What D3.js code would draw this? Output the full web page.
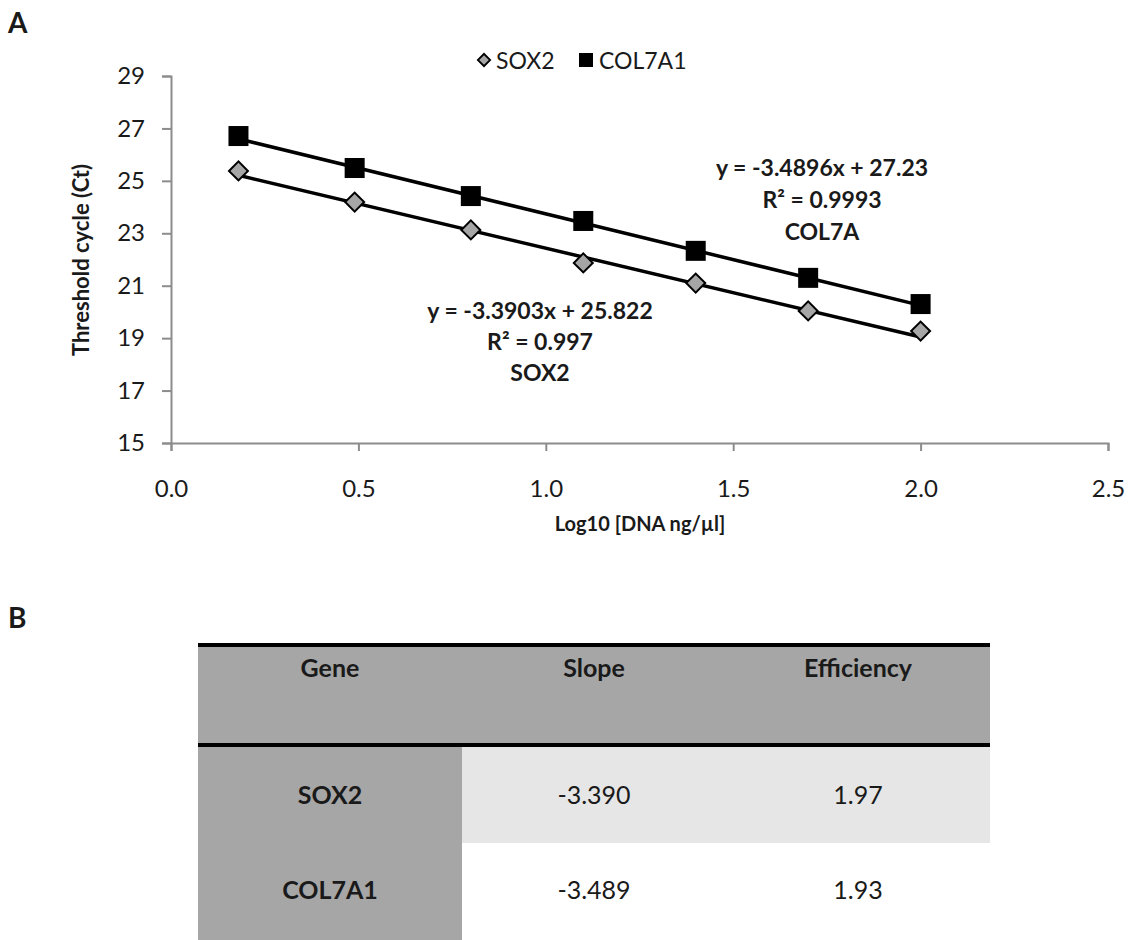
<!DOCTYPE html>
<html><head><meta charset="utf-8">
<script src="https://cdn.jsdelivr.net/npm/d3@7"></script>
<style>body{margin:0;background:#fff}svg{display:block}text{font-family:Lato,"Open Sans",sans-serif}</style>
</head><body>
<svg id="c" width="1137" height="940"></svg>
<script>
const logConc = [0.18, 0.49, 0.80, 1.10, 1.40, 1.70, 2.00];
const sox2Ct = [25.38, 24.19, 23.13, 21.87, 21.10, 20.04, 19.27];
const col7a1Ct = [26.71, 25.49, 24.42, 23.47, 22.33, 21.30, 20.30];
const sox2Fit = {slope: -3.3903, intercept: 25.822};
const col7a1Fit = {slope: -3.4896, intercept: 27.23};
const yTicks = [15, 17, 19, 21, 23, 25, 27, 29];
const xTicks = [0.0, 0.5, 1.0, 1.5, 2.0, 2.5];
const sox2Labels = ["y = -3.3903x + 25.822", "R\u00B2 = 0.997", "SOX2"];
const col7aLabels = ["y = -3.4896x + 27.23", "R\u00B2 = 0.9993", "COL7A"];
const tableHeader = ["Gene", "Slope", "Efficiency"];
const tableGenes = ["SOX2", "COL7A1"];
const tableSlopes = ["-3.390", "-3.489"];
const tableEff = ["1.97", "1.93"];

const svg = d3.select("#c");
const x = d3.scaleLinear().domain([0, 2.5]).range([171, 1108]);
const y = d3.scaleLinear().domain([15, 29]).range([443, 76]);
const ink = "#1a1a1a";

// panel labels
svg.append("text").attr("x", 8).attr("y", 33).attr("font-size", 28).attr("font-weight", "bold").attr("fill", ink).text("A");
svg.append("text").attr("x", 8).attr("y", 628).attr("font-size", 28).attr("font-weight", "bold").attr("fill", ink).text("B");

// axes
const yAxis = svg.append("g").attr("transform", "translate(171,0)")
  .call(d3.axisLeft(y).tickValues(yTicks).tickSize(9).tickPadding(17).tickFormat(d3.format("d")));
const xAxis = svg.append("g").attr("transform", "translate(0,443)")
  .call(d3.axisBottom(x).tickValues(xTicks).tickSize(8).tickPadding(29).tickFormat(d3.format(".1f")));
[yAxis, xAxis].forEach(g => {
  g.selectAll("path,line").attr("stroke", "#8c8c8c").attr("stroke-width", 2);
  g.selectAll("text").attr("font-size", 24).attr("fill", ink).attr("font-family", "Lato, sans-serif");
});

// axis titles
svg.append("text").attr("transform", "translate(89,260) rotate(-90)").attr("text-anchor", "middle")
  .attr("font-size", 22).attr("font-weight", "bold").attr("fill", ink).text("Threshold cycle (Ct)");
svg.append("text").attr("x", 640).attr("y", 531).attr("text-anchor", "middle")
  .attr("font-size", 20).attr("font-weight", "bold").attr("fill", ink).text("Log10 [DNA ng/\u00B5l]");

// trendlines
function trend(fit) {
  const xs = [logConc[0], logConc[logConc.length - 1]];
  svg.append("line")
    .attr("x1", x(xs[0])).attr("y1", y(fit.slope * xs[0] + fit.intercept))
    .attr("x2", x(xs[1])).attr("y2", y(fit.slope * xs[1] + fit.intercept))
    .attr("stroke", "#000").attr("stroke-width", 3.5);
}
trend(sox2Fit);
trend(col7a1Fit);

// markers
svg.append("g").selectAll("path").data(logConc.map((v, i) => [v, sox2Ct[i]])).join("path")
  .attr("d", d3.symbol().type(d3.symbolSquare).size(180)())
  .attr("transform", d => `translate(${x(d[0])},${y(d[1])}) rotate(45)`)
  .attr("fill", "#a6a6a6").attr("stroke", "#000").attr("stroke-width", 2);
svg.append("g").selectAll("rect").data(logConc.map((v, i) => [v, col7a1Ct[i]])).join("rect")
  .attr("x", d => x(d[0]) - 10).attr("y", d => y(d[1]) - 10).attr("width", 20).attr("height", 20)
  .attr("fill", "#000");

// equation labels
function eqn(lines, cx, cy, gap) {
  svg.append("g").selectAll("text").data(lines).join("text")
    .attr("x", cx).attr("y", (d, i) => cy + i * gap).attr("text-anchor", "middle")
    .attr("font-size", 23).attr("font-weight", "bold").attr("fill", ink).text(d => d);
}
eqn(col7aLabels, 822, 176, 32);
eqn(sox2Labels, 540, 319, 31);

// legend
const lg = svg.append("g");
lg.append("path").attr("d", d3.symbol().type(d3.symbolSquare).size(75)())
  .attr("transform", "translate(484,60) rotate(45)").attr("fill", "#a6a6a6").attr("stroke", "#000").attr("stroke-width", 1.8);
lg.append("text").attr("x", 496).attr("y", 69).attr("font-size", 23).attr("fill", ink).text("SOX2");
lg.append("rect").attr("x", 579).attr("y", 53).attr("width", 14).attr("height", 14).attr("fill", "#000");
lg.append("text").attr("x", 599).attr("y", 69).attr("font-size", 23).attr("fill", ink).text("COL7A1");

// table
const colX = d3.scaleBand().domain(d3.range(3)).range([198, 990]);
const t = svg.append("g");
t.append("rect").attr("x", 198).attr("y", 645).attr("width", 792).attr("height", 100).attr("fill", "#a6a6a6");
t.append("rect").attr("x", 198).attr("y", 745).attr("width", colX.bandwidth()).attr("height", 195).attr("fill", "#a6a6a6");
t.append("rect").attr("x", colX(1)).attr("y", 745).attr("width", colX.bandwidth() * 2).attr("height", 98).attr("fill", "#e6e6e6");
t.append("line").attr("x1", 198).attr("x2", 990).attr("y1", 645).attr("y2", 645).attr("stroke", "#000").attr("stroke-width", 4);
t.append("line").attr("x1", 198).attr("x2", 990).attr("y1", 745).attr("y2", 745).attr("stroke", "#000").attr("stroke-width", 4);
t.selectAll(".h").data(tableHeader).join("text").attr("class", "h")
  .attr("x", (d, i) => colX(i) + colX.bandwidth() / 2).attr("y", 677).attr("text-anchor", "middle")
  .attr("font-size", 25).attr("font-weight", "bold").attr("fill", ink).text(d => d);
const rowY = [804, 899];
tableGenes.forEach((g, r) => {
  const vals = [g, tableSlopes[r], tableEff[r]];
  vals.forEach((v, i) => {
    t.append("text").attr("x", colX(i) + colX.bandwidth() / 2).attr("y", rowY[r]).attr("text-anchor", "middle")
      .attr("font-size", 25).attr("font-weight", i === 0 ? "bold" : "normal").attr("fill", ink).text(v);
  });
});
</script>
</body></html>
